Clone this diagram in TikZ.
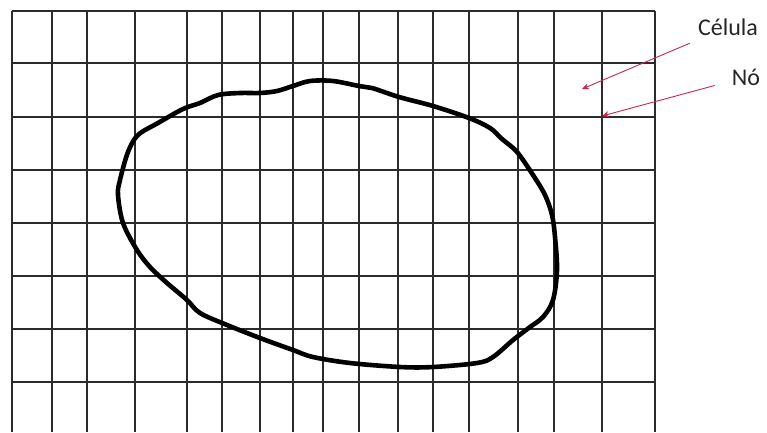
\documentclass[tikz,border=0pt]{standalone}
\usepackage{fontspec}
\setmainfont{Carlito}
\usetikzlibrary{arrows.meta, positioning}
\definecolor{gridline}{HTML}{2B2B2B}
\definecolor{crimson}{HTML}{C8264E}
\definecolor{ink}{HTML}{262626}
\tikzset{
  gridrule/.style={draw=gridline, line width=1.3pt},
  contour/.style={draw=black, line width=4.6pt, line join=round},
  tag/.style={font=\fontsize{24}{28}\selectfont, text=ink, inner sep=8pt},
  pointer/.style={-{Stealth[length=7pt, width=6pt]}, crimson, line width=0.9pt},
}
\begin{document}
\begin{tikzpicture}[x=1pt, y=-1pt]
\useasboundingbox (0,0) rectangle (767,432);
% mesh
\foreach \gx in {12,52,87,135,187,222,260,293,323,359,398,433,469,518,554,602,655}
  \draw[gridrule] (\gx,11) -- (\gx,432);
\foreach \gy in {11,63,117,170,223,276,329,382}
  \draw[gridrule] (12,\gy) -- (655,\gy);
% closed boundary
\draw[contour] plot[smooth cycle, tension=0.55] coordinates {
  (120,180) (128,152) (138,135) (158,123) (183,109) (200,103) (218,95)
  (240,93) (260,93) (277,91) (293,86) (310,81) (333,81) (359,86) (372,88)
  (399,97) (433,106) (469,118) (490,128) (502,139) (517,152) (533,175)
  (545,195) (552,215) (555,237) (557,270) (553,300) (543,317) (530,327)
  (513,340) (493,357) (477,363) (433,367) (400,367) (350,363) (313,357)
  (293,350) (260,338) (227,325) (200,313) (187,300) (167,283) (150,267)
  (137,250) (123,223) (118,195)};
% labels
\coordinate (cellmid) at (582,89);
\coordinate (meshnode) at (602,116);
\node[tag] (celula) at (728,27) {Célula};
\node[tag, inner xsep=17pt] (no) at (746,77) {Nó};
\draw[pointer] (celula) -- (cellmid);
\draw[pointer] (no) -- (meshnode);
\end{tikzpicture}
\end{document}
